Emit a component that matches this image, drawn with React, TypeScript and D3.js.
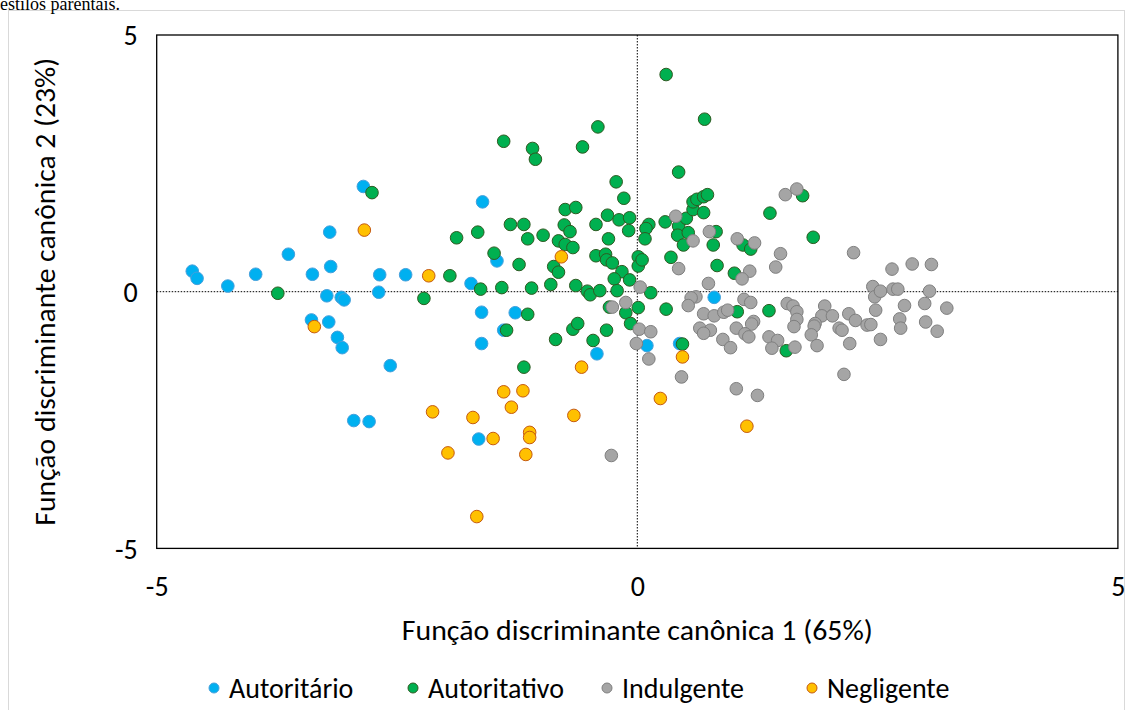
import React, { useRef, useEffect } from "react";
import * as d3 from "d3";

// canonical discriminant scores: [function 1, function 2]
const autoritario: [number, number][] = [
  [-2.85, 2.05], [-3.2, 1.16], [-3.63, 0.73], [-4.63, 0.4], [-4.58, 0.26], [-4.26, 0.11],
  [-3.97, 0.34], [-3.38, 0.34], [-3.19, 0.49], [-2.68, 0.33], [-2.41, 0.33], [-3.23, -0.08],
  [-3.08, -0.11], [-3.05, -0.16], [-2.69, -0.01], [-3.39, -0.55], [-3.21, -0.59], [-3.12, -0.89],
  [-3.07, -1.09], [-2.57, -1.44], [-2.95, -2.51], [-2.79, -2.53], [-1.61, 1.75], [-1.46, 0.6],
  [-1.73, 0.16], [-1.62, -0.4], [-1.27, -0.41], [-1.39, -0.75], [-1.62, -1.01], [-0.42, -1.21],
  [-1.65, -2.87], [0.8, -0.11], [0.1, -1.05], [0.44, -1.01],
];

const autoritativo: [number, number][] = [
  [-2.76, 1.93], [-3.74, -0.03], [-0.41, 3.21], [-1.39, 2.93], [-1.09, 2.79], [-1.06, 2.58],
  [-0.57, 2.82], [-0.22, 2.14], [-0.14, 1.82], [-0.75, 1.6], [-0.64, 1.64], [-0.31, 1.49],
  [-0.19, 1.4], [-0.08, 1.44], [-0.09, 1.19], [-0.43, 1.31], [-0.76, 1.3], [-0.7, 1.17],
  [-1.32, 1.31], [-1.18, 1.31], [-1.14, 1.03], [-0.98, 1.1], [-1.66, 1.16], [-1.88, 1.05],
  [-0.82, 0.99], [-0.75, 0.92], [-0.67, 0.86], [-0.3, 1.03], [-1.49, 0.75], [-1.23, 0.53],
  [-0.87, 0.49], [-0.82, 0.38], [-0.43, 0.7], [-0.33, 0.73], [-0.32, 0.62], [-0.26, 0.56],
  [0.01, 0.68], [0.01, 0.5], [0.05, 0.62], [-0.16, 0.39], [-0.24, 0.25], [-0.08, 0.23],
  [-1.95, 0.31], [-1.63, 0.05], [-1.41, 0.08], [-1.1, 0.07], [-0.9, 0.14], [-0.64, 0.12],
  [-0.52, 0.01], [-0.49, -0.06], [-0.39, 0.02], [-0.21, 0.02], [-2.22, -0.13], [-1.14, -0.44],
  [-1.36, -0.75], [-0.85, -0.93], [-0.67, -0.73], [-0.62, -0.62], [-0.32, -0.75], [-0.46, -0.95],
  [-1.18, -1.47], [-0.29, -0.3], [-0.12, -0.41], [-0.07, -0.62], [0.01, -0.31], [0.43, 2.33],
  [0.12, 1.31], [0.09, 1.23], [0.08, 1.03], [0.29, 1.36], [0.43, 1.28], [0.51, 1.43],
  [0.58, 1.6], [0.58, 1.75], [0.62, 1.8], [0.69, 1.85], [0.73, 1.89], [0.69, 1.54],
  [0.42, 1.1], [0.53, 1.15], [0.48, 0.91], [0.35, 0.67], [0.14, -0.02], [0.3, -0.34],
  [0.3, 4.23], [0.7, 3.36], [0.82, 1.17], [0.79, 0.91], [0.83, 0.51], [1.38, 1.53],
  [1.72, 1.87], [1.83, 1.06], [1.1, 0.91], [1.18, 0.83], [1.01, 0.36], [1.04, -0.39],
  [1.37, -0.37], [1.55, -1.15], [0.47, -1.02],
];

const indulgente: [number, number][] = [
  [-0.26, -0.3], [-0.12, -0.21], [0.02, -0.73], [-0.01, -1.01], [0.03, 0.09], [-0.27, -3.19],
  [0.4, 1.47], [0.58, 0.99], [0.43, 0.45], [0.14, -0.78], [0.75, 1.17], [0.74, 0.16],
  [0.61, -0.1], [0.56, -0.12], [0.53, -0.27], [0.69, -0.43], [0.65, -0.71], [1.04, 1.03],
  [1.22, 0.95], [1.54, 1.89], [1.66, 2.0], [1.49, 0.74], [1.44, 0.48], [1.17, 0.4],
  [1.09, 0.25], [2.25, 0.76], [1.11, -0.15], [1.18, -0.21], [0.8, -0.47], [0.9, -0.4],
  [0.94, -0.36], [0.76, -0.75], [1.03, -0.71], [1.21, -0.58], [1.19, -0.63], [1.12, -0.82],
  [1.16, -0.88], [0.89, -0.93], [0.97, -1.09], [1.37, -0.88], [1.46, -0.95], [1.4, -1.1],
  [1.64, -1.08], [1.56, -0.23], [1.62, -0.28], [1.66, -0.39], [1.66, -0.54], [1.63, -0.68],
  [1.95, -0.28], [1.92, -0.47], [1.85, -0.62], [1.84, -0.67], [1.81, -0.84], [1.87, -1.05],
  [2.03, -0.47], [2.1, -0.71], [2.13, -0.75], [2.2, -0.43], [2.21, -1.01], [0.12, -1.31],
  [0.46, -1.66], [0.69, -0.81], [2.27, -0.56], [2.15, -1.61], [1.03, -1.89], [1.25, -2.02],
  [2.65, 0.44], [2.86, 0.54], [3.06, 0.53], [2.45, 0.1], [2.47, -0.1], [2.53, 0.01],
  [2.66, 0.05], [2.71, 0.05], [3.04, 0.01], [2.78, -0.27], [2.99, -0.23], [3.22, -0.32],
  [2.48, -0.36], [2.73, -0.53], [2.74, -0.71], [3.0, -0.59], [3.12, -0.77], [2.39, -0.65],
  [2.43, -0.64], [2.53, -0.93],
];

const negligente: [number, number][] = [
  [-2.84, 1.2], [-3.36, -0.68], [-2.17, 0.31], [-0.79, 0.68], [-0.58, -1.47], [-1.39, -1.95],
  [-1.19, -1.93], [-1.31, -2.25], [-2.13, -2.34], [-1.71, -2.45], [-0.66, -2.41], [-1.12, -2.74],
  [-1.12, -2.84], [-1.5, -2.86], [-1.97, -3.14], [-1.16, -3.17], [-1.67, -4.38], [0.47, -1.27],
  [0.24, -2.08], [1.14, -2.62],
];

const seriesNames = ["Autoritário", "Autoritativo", "Indulgente", "Negligente"];
const seriesData = [autoritario, autoritativo, indulgente, negligente];
const seriesFill = ["#00B0F0", "#00B050", "#A5A5A5", "#FFC000"];
const seriesStroke = ["#45A0DC", "#2F5A22", "#7F7F7F", "#C55A11"];
const legendX = [214, 413, 607, 812];
const axisTicks = [-5, 0, 5];
const xTitle = "Função discriminante canônica 1 (65%)";
const yTitle = "Função discriminante canônica 2 (23%)";

const App = () => {
  const svgRef = useRef(null);

  useEffect(() => {
    const svg = d3.select(svgRef.current);
    svg.selectAll("*").remove();
    const font = "Carlito, Calibri, Lato, sans-serif";
    const plot = { left: 156.7, right: 1117.9, top: 35, bottom: 548.4 };

    const x = d3.scaleLinear().domain([-5, 5]).range([plot.left, plot.right]);
    const y = d3.scaleLinear().domain([-5, 5]).range([plot.bottom, plot.top]);

    // chart area border + the caption cut off above it
    svg
      .append("rect")
      .attr("x", 8.5)
      .attr("y", 10.5)
      .attr("width", 1116)
      .attr("height", 710)
      .attr("fill", "none")
      .attr("stroke", "#D9D9D9");

    svg
      .append("text")
      .attr("x", 0)
      .attr("y", 10)
      .style("font-family", "'Liberation Serif', serif")
      .style("font-size", "18px")
      .text("estilos parentais.");

    // dotted zero lines
    svg
      .append("line")
      .attr("x1", x(0))
      .attr("x2", x(0))
      .attr("y1", plot.top)
      .attr("y2", plot.bottom)
      .attr("stroke", "#000")
      .attr("stroke-dasharray", "1.5,1.5");
    svg
      .append("line")
      .attr("x1", plot.left)
      .attr("x2", plot.right)
      .attr("y1", y(0))
      .attr("y2", y(0))
      .attr("stroke", "#000")
      .attr("stroke-dasharray", "1.5,1.5");

    svg
      .append("rect")
      .attr("x", plot.left)
      .attr("y", plot.top)
      .attr("width", plot.right - plot.left)
      .attr("height", plot.bottom - plot.top)
      .attr("fill", "none")
      .attr("stroke", "#000")
      .attr("stroke-width", 1.3);

    const fmt = (d) => `${d}`; // plain hyphen minus like the original
    const xAxis = svg
      .append("g")
      .attr("transform", `translate(0,${plot.bottom})`)
      .call(d3.axisBottom(x).tickValues(axisTicks).tickSize(0).tickPadding(28).tickFormat(fmt));
    const yAxis = svg
      .append("g")
      .attr("transform", `translate(${plot.left},0)`)
      .call(d3.axisLeft(y).tickValues(axisTicks).tickSize(0).tickPadding(19).tickFormat(fmt));
    [xAxis, yAxis].forEach((g) => {
      g.select(".domain").remove();
      g.selectAll("text")
        .style("font-family", font)
        .style("font-size", "28px")
        .style("fill", "#000");
    });
    yAxis.selectAll("text").attr("dy", "0.35em");

    svg
      .append("text")
      .attr("x", (plot.left + plot.right) / 2)
      .attr("y", 630)
      .attr("text-anchor", "middle")
      .attr("dominant-baseline", "central")
      .attr("textLength", 471)
      .attr("lengthAdjust", "spacingAndGlyphs")
      .style("font-family", font)
      .style("font-size", "28px")
      .text(xTitle);

    svg
      .append("text")
      .attr("transform", `translate(45,${(plot.top + plot.bottom) / 2}) rotate(-90)`)
      .attr("text-anchor", "middle")
      .attr("dominant-baseline", "central")
      .attr("textLength", 468)
      .attr("lengthAdjust", "spacingAndGlyphs")
      .style("font-family", font)
      .style("font-size", "28px")
      .text(yTitle);

    // markers, drawn series by series like Excel does
    seriesData.forEach((pts, i) => {
      svg
        .append("g")
        .selectAll("circle")
        .data(pts)
        .enter()
        .append("circle")
        .attr("cx", (d) => x(d[0]))
        .attr("cy", (d) => y(d[1]))
        .attr("r", 6.3)
        .attr("fill", seriesFill[i])
        .attr("stroke", seriesStroke[i])
        .attr("stroke-width", 1);
    });

    const legend = svg
      .append("g")
      .selectAll("g")
      .data(seriesNames)
      .enter()
      .append("g")
      .attr("transform", (d, i) => `translate(${legendX[i]},688)`);
    legend
      .append("circle")
      .attr("r", 5)
      .attr("fill", (d, i) => seriesFill[i])
      .attr("stroke", (d, i) => seriesStroke[i]);
    legend
      .append("text")
      .attr("x", 15)
      .attr("dominant-baseline", "central")
      .style("font-family", font)
      .style("font-size", "28px")
      .text((d) => d);
  }, []);

  return (
    <svg
      ref={svgRef}
      width={1132}
      height={710}
      style={{ position: "absolute", left: 0, top: 0, background: "#fff" }}
    ></svg>
  );
};

export default App;
